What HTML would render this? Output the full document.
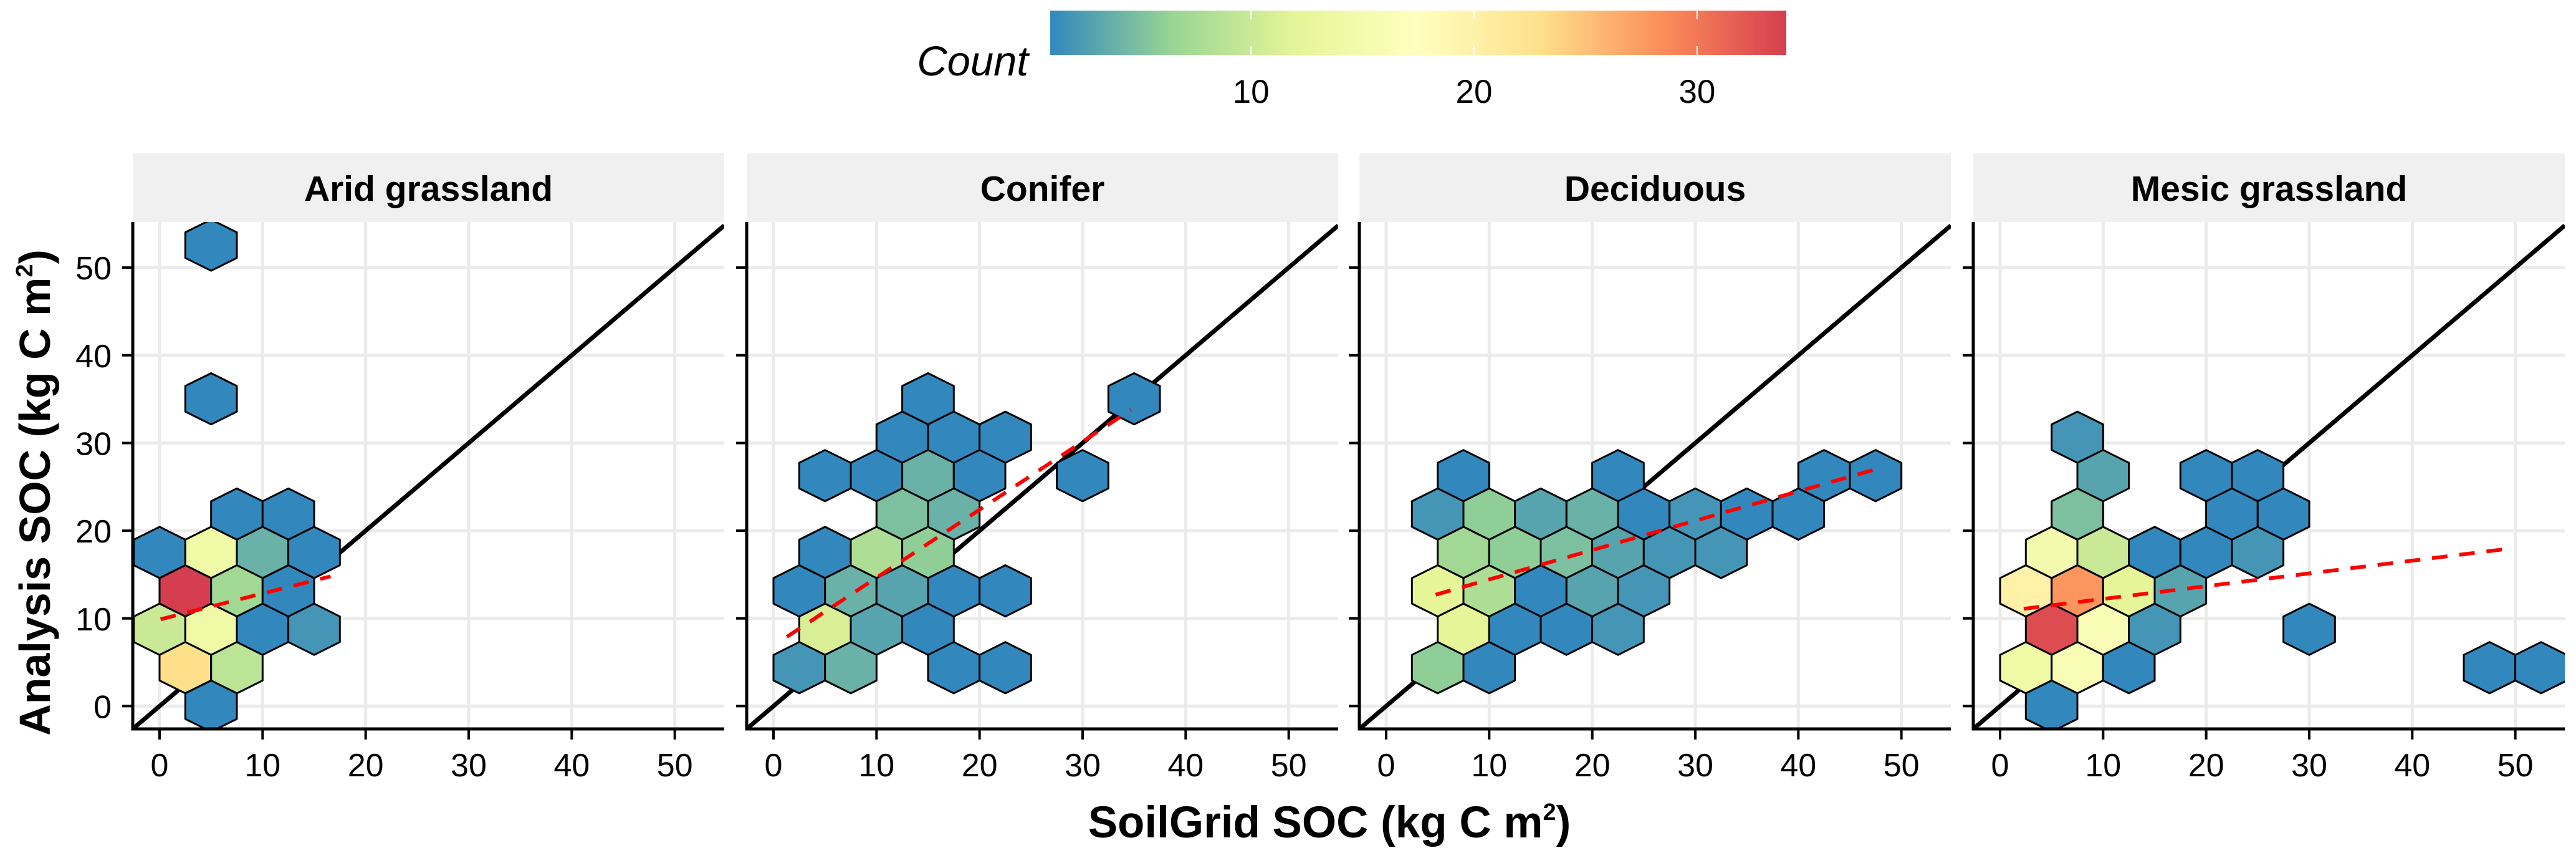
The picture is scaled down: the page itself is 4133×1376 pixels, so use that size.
<!DOCTYPE html>
<html><head><meta charset="utf-8"><style>
html,body{margin:0;padding:0;background:#fff;}
svg{display:block;font-family:"Liberation Sans",Arial,sans-serif;}
</style></head><body>
<svg id="chart" width="4133" height="1376" viewBox="0 0 4133 1376" xmlns="http://www.w3.org/2000/svg">
<defs>
<linearGradient id="spec" x1="0" x2="1" y1="0" y2="0">
<stop offset="0" stop-color="#3288BD"/><stop offset="0.1667" stop-color="#99D594"/><stop offset="0.3333" stop-color="#E6F598"/><stop offset="0.5" stop-color="#FFFFBF"/><stop offset="0.6667" stop-color="#FEE08B"/><stop offset="0.8333" stop-color="#FC8D59"/><stop offset="1" stop-color="#D53E4F"/>
</linearGradient>
</defs>
<g id="legend">
<text x="1650" y="121" font-size="67" font-style="italic" text-anchor="end">Count</text>
<rect x="1685" y="17" width="1181" height="71" fill="url(#spec)"/>
</g>
<g id="panels"></g>
<text transform="translate(80,790) rotate(-90)" font-size="70" font-weight="bold" text-anchor="middle">Analysis SOC (kg C m<tspan font-size="38" dy="-28">2</tspan><tspan dy="28">)</tspan></text>
<text x="2133" y="1343" font-size="71" font-weight="bold" text-anchor="middle">SoilGrid SOC (kg C m<tspan font-size="38" dy="-28">2</tspan><tspan dy="28">)</tspan></text>
</svg>
<script>
const panelNames = ["Arid grassland","Conifer","Deciduous","Mesic grassland"];
const xTicks = [0,10,20,30,40,50];
const yTicks = [0,10,20,30,40,50];
const legendTicks = [10,20,30];
const countMin = 1, countMax = 34;
const aridX = [5,5,7.5,12.5,0,5,10,15,2.5,7.5,12.5,0,5,10,15,2.5,7.5,5];
const aridY = [52.56,35.04,21.9,21.9,17.52,17.52,17.52,17.52,13.14,13.14,13.14,8.76,8.76,8.76,8.76,4.38,4.38,0];
const aridCount = [1,1,1,1,1,14,4,1,34,7,1,10,14,1,2,23,9,1];
const coniferX = [15,35,12.5,17.5,22.5,5,10,15,20,30,12.5,17.5,5,10,15,2.5,7.5,12.5,17.5,22.5,5,10,15,2.5,7.5,17.5,22.5];
const coniferY = [35.04,35.04,30.66,30.66,30.66,26.28,26.28,26.28,26.28,26.28,21.9,21.9,17.52,17.52,17.52,13.14,13.14,13.14,13.14,13.14,8.76,8.76,8.76,4.38,4.38,4.38,4.38];
const coniferCount = [1,1,1,1,1,1,1,4,1,1,5,4,1,8,6,1,4,3,1,1,11,3,1,2,4,1,1];
const decidX = [7.5,22.5,42.5,47.5,5,10,15,20,25,30,35,40,7.5,12.5,17.5,22.5,27.5,32.5,5,10,15,20,25,7.5,12.5,17.5,22.5,5,10];
const decidY = [26.28,26.28,26.28,26.28,21.9,21.9,21.9,21.9,21.9,21.9,21.9,21.9,17.52,17.52,17.52,17.52,17.52,17.52,13.14,13.14,13.14,13.14,13.14,8.76,8.76,8.76,8.76,4.38,4.38];
const decidCount = [1,1,1,1,2,6,3,4,1,2,1,1,7,6,5,3,2,2,12,8,1,3,2,12,1,1,2,6,1];
const mesicX = [7.5,10,20,25,7.5,22.5,27.5,5,10,15,20,25,2.5,7.5,12.5,17.5,5,10,15,30,2.5,7.5,12.5,47.5,52.5,5];
const mesicY = [30.66,26.28,26.28,26.28,21.9,21.9,21.9,17.52,17.52,17.52,17.52,17.52,13.14,13.14,13.14,13.14,8.76,8.76,8.76,8.76,4.38,4.38,4.38,4.38,4.38,0];
const mesicCount = [2,3,1,1,5,1,1,15,10,1,1,2,20,28,12,3,33,16,2,1,14,16,1,1,1,1];
const fitX0 = [0.1,1.3,4.8,2.3];
const fitY0 = [9.9,7.9,12.7,11.1];
const fitX1 = [16.6,34.7,47.8,49.7];
const fitY1 = [14.8,33.8,27.1,18.0];

const hexXs=[aridX,coniferX,decidX,mesicX], hexYs=[aridY,coniferY,decidY,mesicY], hexCs=[aridCount,coniferCount,decidCount,mesicCount];
const NS="http://www.w3.org/2000/svg";
const panelsG=document.getElementById('panels');
const lefts=[213,1198,2181,3166], PW=949, PT=356, PB=1169, ST=246;
const XMIN=-2.6, XMAX=54.8, YMIN=-2.6, YMAX=55.2;
function sx(p,v){return lefts[p]+(v-XMIN)/(XMAX-XMIN)*PW;}
function sy(v){return PB-(v-YMIN)/(YMAX-YMIN)*(PB-PT);}
const pal=[[50,136,189],[153,213,148],[230,245,152],[255,255,191],[254,224,139],[252,141,89],[213,62,79]];
function col(c){let t=(c-countMin)/(countMax-countMin);t=Math.max(0,Math.min(1,t))*6;let i=Math.min(5,Math.floor(t)),f=t-i;
 const a=pal[i],b=pal[i+1];return 'rgb('+a.map((v,k)=>Math.round(v+(b[k]-v)*f)).join(',')+')';}
function mk(tag,attrs,parent){const e=document.createElementNS(NS,tag);for(const k in attrs)e.setAttribute(k,attrs[k]);parent.appendChild(e);return e;}

const lg=document.getElementById('legend');
legendTicks.forEach(v=>{
 const x=1685+(v-countMin)/(countMax-countMin)*1181;
 const t1=mk('line',{x1:x,x2:x,y1:17,y2:31,stroke:'#fff','stroke-width':2},lg);
 
 
 const t2=mk('line',{x1:x,x2:x,y1:74,y2:88,stroke:'#fff','stroke-width':2},lg);
 
 
 const tl=mk('text',{x:x,y:165,'font-size':53,'text-anchor':'middle'},lg);
 tl.textContent=v;
 
 
});

const R=2.92, HW=2.5;
for(let p=0;p<4;p++){
 const g=mk('g',{},panelsG);
 
 
 const L=lefts[p];
 const strip=mk('rect',{x:L,y:ST,width:PW,height:PT-ST,fill:'#F0F0F0'},g);
 
 
 const st=mk('text',{x:L+PW/2,y:322,'font-size':57,'font-weight':'bold','text-anchor':'middle'},g);
 st.textContent=panelNames[p];
 
 
 const cp=mk('clipPath',{id:'clip'+p},g);
 mk('rect',{x:L,y:PT,width:PW,height:PB-PT},cp);
 const pg=mk('g',{'clip-path':'url(#clip'+p+')'},g);
 xTicks.forEach(v=>{const l=mk('line',{x1:sx(p,v),x2:sx(p,v),y1:PT,y2:PB,stroke:'#EBEBEB','stroke-width':5},pg);
  
  });
 yTicks.forEach(v=>{const l=mk('line',{x1:L,x2:L+PW,y1:sy(v),y2:sy(v),stroke:'#EBEBEB','stroke-width':5},pg);
  
  });
 const one=mk('line',{x1:sx(p,XMIN),y1:sy(XMIN),x2:sx(p,XMAX),y2:sy(XMAX),stroke:'#000','stroke-width':7},pg);
 
 
 const X=hexXs[p],Y=hexYs[p],C=hexCs[p];
 for(let i=0;i<X.length;i++){
  const pts=[[X[i],Y[i]+R],[X[i]+HW,Y[i]+R/2],[X[i]+HW,Y[i]-R/2],[X[i],Y[i]-R],[X[i]-HW,Y[i]-R/2],[X[i]-HW,Y[i]+R/2]]
   .map(q=>sx(p,q[0]).toFixed(1)+','+sy(q[1]).toFixed(1)).join(' ');
  const h=mk('polygon',{points:pts,fill:col(C[i]),stroke:'#000','stroke-width':3,'stroke-linejoin':'round'},pg);
  
  
 }
 const fit=mk('line',{x1:sx(p,fitX0[p]),y1:sy(fitY0[p]),x2:sx(p,fitX1[p]),y2:sy(fitY1[p]),stroke:'#FF0000','stroke-width':6,'stroke-dasharray':'25 19'},pg);
 
 
 const xa=mk('line',{x1:L,x2:L+PW,y1:PB,y2:PB,stroke:'#000','stroke-width':5},g);
 
 
 const ya=mk('line',{x1:L,x2:L,y1:PT,y2:PB+2.5,stroke:'#000','stroke-width':5},g);
 
 
 xTicks.forEach(v=>{
  const t=mk('line',{x1:sx(p,v),x2:sx(p,v),y1:PB,y2:PB+17,stroke:'#000','stroke-width':4},g);
  
  
  const tl=mk('text',{x:sx(p,v),y:1245,'font-size':52,'text-anchor':'middle'},g);
  tl.textContent=v;
  
  
 });
 yTicks.forEach(v=>{
  const t=mk('line',{x1:L-17,x2:L,y1:sy(v),y2:sy(v),stroke:'#000','stroke-width':4},g);
  
  
  if(p===0){
   const tl=mk('text',{x:179,y:sy(v)+19,'font-size':52,'text-anchor':'end'},g);
   tl.textContent=v;
   
   
  }
 });
}
</script>
</body></html>
